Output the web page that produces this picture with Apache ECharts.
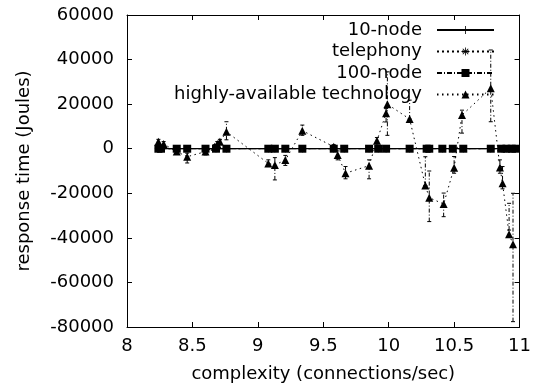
<!DOCTYPE html>
<html>
<head>
<meta charset="utf-8">
<script src="https://cdn.jsdelivr.net/npm/echarts@6/dist/echarts.min.js"></script>
<style>
html,body{margin:0;padding:0;background:#fff;}
#chart{width:534px;height:392px;}
</style>
</head>
<body>
<div id="chart"></div>
<script>
// ---- data ----
var seriesNames = ['10-node', 'telephony', '100-node', 'highly-available technology'];
var xTicks = [8, 8.5, 9, 9.5, 10, 10.5, 11];
var yTicks = [-80000, -60000, -40000, -20000, 0, 20000, 40000, 60000];

var nodeX = [8.24, 8.26, 8.38, 8.46, 8.60, 8.68, 8.76, 9.08, 9.13, 9.21, 9.34, 9.58, 9.66, 9.85, 9.92, 9.98, 10.16, 10.29, 10.31, 10.41, 10.49, 10.57, 10.78, 10.86, 10.90, 10.94, 10.97];
var node10Y = [0,0,0,0,0,0,0,0,0,0,0,0,0,0,0,0,0,0,0,0,0,0,0,0,0,0,0];
var telephonyY = [0,0,0,0,0,0,0,0,0,0,0,0,0,0,0,0,0,0,0,0,0,0,0,0,0,0,0];
var node100Y = [0,0,0,0,0,0,0,0,0,0,0,0,0,0,0,0,0,0,0,0,0,0,0,0,0,0,0];

var techX = [8.24, 8.28, 8.38, 8.46, 8.60, 8.67, 8.69, 8.71, 8.76, 9.08, 9.13, 9.21, 9.34, 9.58, 9.61, 9.67, 9.85, 9.91, 9.98, 9.99, 10.16, 10.28, 10.31, 10.42, 10.50, 10.56, 10.78, 10.85, 10.87, 10.92, 10.95];
var techY = [3100, 2100, -1300, -3600, -1300, 900, 2100, 3100, 7600, -6600, -7300, -5100, 8100, 900, -2800, -11000, -7600, 3600, 15900, 20000, 13300, -16500, -22000, -24800, -8500, 15100, 27100, -8400, -15500, -38400, -42900];
var techLow = [2000, 1000, -2500, -6400, -2800, 0, 1000, 2000, 4000, -8000, -14000, -7500, 6000, 0, -5000, -13500, -13500, 1500, 12000, 6000, 13300, -16500, -32700, -30500, -11000, 7000, 12100, -11000, -18000, -36500, -77600];
var techHigh = [4200, 3200, 0, -2000, 0, 1800, 3200, 4200, 12100, -5000, -4000, -3000, 10600, 1800, -1000, -8000, -5000, 5000, 18000, 34500, 21800, -3600, -10000, -19900, -3500, 17300, 44300, -5000, -8000, -24500, -20000];

// ---- build ----
function pairs(xs, ys){ return xs.map(function(x,i){ return [x, ys[i]]; }); }
var errData = techX.map(function(x,i){ return [x, techLow[i], techHigh[i]]; });

var FONT = '"DejaVu Sans", sans-serif';
var plusPath = 'path://M0,4.5h10v1h-10zM4.5,0h1v10h-1z';
var starPath = 'path://M0,4.5h10v1h-10zM4.5,0h1v10h-1zM1.2,1.9l0.7,-0.7l6.9,6.9l-0.7,0.7zM8.1,1.2l0.7,0.7l-6.9,6.9l-0.7,-0.7z';

var chart = echarts.init(document.getElementById('chart'), null, {renderer:'canvas'});
var axisCommon = {
  type:'value',
  axisLine:{show:true, onZero:false, lineStyle:{color:'#000', width:1}},
  axisTick:{show:true, inside:true, length:5, lineStyle:{color:'#000'}},
  splitLine:{show:false}
};
var option = {
  animation:false,
  backgroundColor:'#fff',
  grid:{left:127, right:14, top:15, bottom:65, show:false},
  legend:{
    orient:'vertical', right:34, top:16, align:'right',
    itemWidth:57, itemHeight:10, itemGap:3.5,
    textStyle:{fontFamily:FONT, fontSize:18, color:'#000', padding:[0,10,0,0]},
    data:seriesNames
  },
  xAxis:[
    Object.assign({}, axisCommon, {
      min:xTicks[0], max:xTicks[xTicks.length-1], interval:0.5, position:'bottom',
      name:'complexity (connections/sec)', nameLocation:'middle', nameGap:38,
      nameTextStyle:{fontFamily:FONT, fontSize:18, color:'#000'},
      axisLabel:{fontFamily:FONT, fontSize:18, color:'#000', margin:10}
    }),
    Object.assign({}, axisCommon, {
      min:xTicks[0], max:xTicks[xTicks.length-1], interval:0.5, position:'top',
      axisLabel:{show:false}
    })
  ],
  yAxis:[
    Object.assign({}, axisCommon, {
      min:yTicks[0], max:yTicks[yTicks.length-1], interval:20000, position:'left',
      name:'response time (Joules)', nameLocation:'middle', nameGap:94,
      nameTextStyle:{fontFamily:FONT, fontSize:18, color:'#000'},
      axisLabel:{fontFamily:FONT, fontSize:18, color:'#000', margin:13, formatter:function(v){return String(v);}}
    }),
    Object.assign({}, axisCommon, {
      min:yTicks[0], max:yTicks[yTicks.length-1], interval:20000, position:'right',
      axisLabel:{show:false}
    })
  ],
  series:[
    {
      name:seriesNames[0], type:'line', data:pairs(nodeX, node10Y),
      symbol:plusPath, symbolSize:7, showAllSymbol:true,
      lineStyle:{color:'#000', width:1.2, type:'solid'}, itemStyle:{color:'#000'}, z:3
    },
    {
      name:seriesNames[1], type:'line', data:pairs(nodeX, telephonyY),
      symbol:starPath, symbolSize:7, showAllSymbol:true,
      lineStyle:{color:'#000', width:1, type:[2,3]}, itemStyle:{color:'#000'}, z:2
    },
    {
      name:seriesNames[2], type:'line', data:pairs(nodeX, node100Y),
      symbol:'rect', symbolSize:8, showAllSymbol:true,
      lineStyle:{color:'#000', width:1, type:[5,2,1,2]}, itemStyle:{color:'#000'}, z:4
    },
    {
      name:seriesNames[3], type:'line', data:pairs(techX, techY),
      symbol:'triangle', symbolSize:8, showAllSymbol:true,
      lineStyle:{color:'#000', width:1, type:[1.5,3.5]}, itemStyle:{color:'#000'}, z:5
    },
    {
      type:'custom', data:errData, z:4, silent:true,
      encode:{x:0, y:[1,2]},
      renderItem:function(params, api){
        var x = api.value(0);
        var lo = api.coord([x, api.value(1)]);
        var hi = api.coord([x, api.value(2)]);
        var st = {stroke:'#000', lineWidth:1, lineDash:[4,2,1,2]};
        return {type:'group', children:[
          {type:'line', shape:{x1:lo[0], y1:lo[1], x2:hi[0], y2:hi[1]}, style:st},
          {type:'line', shape:{x1:lo[0]-2, y1:lo[1], x2:lo[0]+2, y2:lo[1]}, style:{stroke:'#000', lineWidth:1}},
          {type:'line', shape:{x1:hi[0]-2, y1:hi[1], x2:hi[0]+2, y2:hi[1]}, style:{stroke:'#000', lineWidth:1}}
        ]};
      }
    }
  ]
};
chart.setOption(option);
</script>
</body>
</html>
